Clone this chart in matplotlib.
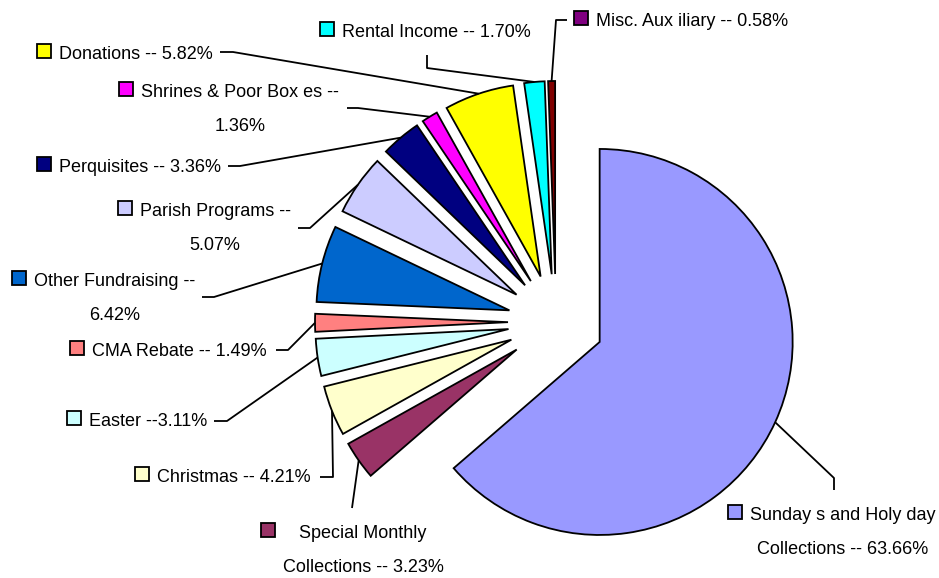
import matplotlib.pyplot as plt
from matplotlib import font_manager
from matplotlib.patches import Rectangle
import numpy as np

# narrow Arial-like face if present, otherwise plain Liberation Sans a bit smaller
try:
    font_manager.findfont("Liberation Sans Narrow", fallback_to_default=False)
    plt.rcParams['font.family'] = ['Liberation Sans Narrow', 'DejaVu Sans']
    FS = 15.5
except ValueError:
    plt.rcParams['font.family'] = ['Liberation Sans', 'DejaVu Sans']
    FS = 13

# Data (clockwise from 12 o'clock)
categories = ["Sunday s and Holy day\nCollections", "Special Monthly\nCollections",
              "Christmas", "Easter", "CMA Rebate", "Other Fundraising",
              "Parish Programs", "Perquisites", "Shrines & Poor Box es",
              "Donations", "Rental Income", "Misc. Aux iliary"]
shares = [63.66, 3.23, 4.21, 3.11, 1.49, 6.42, 5.07, 3.36, 1.36, 5.82, 1.70, 0.58]
seps = [" -- ", " -- ", " -- ", " --", " -- ", " --\n", " --\n", " -- ", " --\n",
        " -- ", " -- ", " -- "]

slice_colors = ["#9999FF", "#993366", "#FFFFCC", "#CCFFFF", "#FF8080", "#0066CC",
                "#CCCCFF", "#000080", "#FF00FF", "#FFFF00", "#00FFFF", "#800000"]
key_colors = slice_colors[:-1] + ["#800080"]

W, H = 939, 578
fig = plt.figure(figsize=(W / 100, H / 100), dpi=100)
ax = fig.add_axes([0, 0, 1, 1])

wedges, _ = ax.pie(shares, colors=slice_colors, startangle=90, counterclock=False,
                   center=(556, H - 322), radius=193, explode=[48] * len(shares),
                   wedgeprops=dict(edgecolor="black", linewidth=1.3))
ax.set_xlim(0, W)
ax.set_ylim(0, H)
ax.set_aspect("auto")
ax.axis("off")

# label layout in image pixels (y down): block centre x, first baseline, leader elbows
label_x = [843, 363, 234, 148, 179, 115, 215, 140, 240, 136, 436, 692]
label_y = [520, 538, 482, 426, 356, 286, 216, 172, 97, 59, 37, 26]
leaders = [
    [(834, 490), (834, 478)],
    [(352, 508)],
    [(320, 477), (333, 477)],
    [(214, 421), (227, 421)],
    [(276, 350), (288, 350)],
    [(202, 297), (214, 297)],
    [(298, 228), (310, 228)],
    [(228, 166), (240, 166)],
    [(347, 108), (358, 108)],
    [(220, 52), (233, 52)],
    [(427, 55), (427, 68)],
    [(567, 20), (556, 20)],
]
line_gap = 34

renderer = fig.canvas.get_renderer()
inv = ax.transData.inverted()

for i, w in enumerate(wedges):
    # leader line ends at the middle of the slice's outer arc
    th = np.deg2rad((w.theta1 + w.theta2) / 2)
    end = (w.center[0] + w.r * np.cos(th), w.center[1] + w.r * np.sin(th))
    xs = [p[0] for p in leaders[i]] + [end[0]]
    ys = [H - p[1] for p in leaders[i]] + [end[1]]
    ax.plot(xs, ys, color="black", lw=1.3, solid_capstyle="butt")

    label = categories[i] + seps[i] + f"{shares[i]:.2f}%"
    texts = []
    for k, line in enumerate(label.split("\n")):
        t = ax.text(label_x[i], H - (label_y[i] + k * line_gap), line,
                    ha="center", va="baseline", fontsize=FS)
        texts.append(t)
    left = min(inv.transform((t.get_window_extent(renderer).x0, 0))[0] for t in texts)
    ax.add_patch(Rectangle((left - 8 - 14, H - label_y[i] + 1), 14, 14,
                           facecolor=key_colors[i], edgecolor="black", lw=1.3))

fig.savefig("out.png", dpi=100)
